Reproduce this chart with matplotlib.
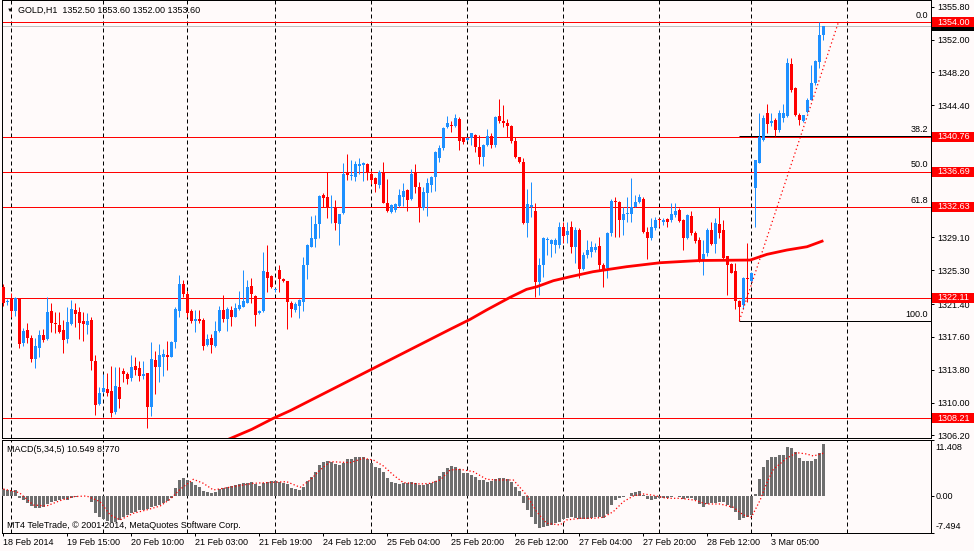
import matplotlib
matplotlib.use("Agg")
import matplotlib.pyplot as plt
from matplotlib.patches import Rectangle
from matplotlib.transforms import blended_transform_factory, offset_copy

plt.rcParams['font.family'] = ['Liberation Sans', 'DejaVu Sans']
plt.rcParams['font.size'] = 6.5

# hourly GOLD bars (bar 0 = 18 Feb 2014 23:00)
opens = [
    1323.40, 1321.60, 1321.95, 1320.64, 1321.95, 1316.94, 1318.40, 1317.44, 1315.05, 1316.36,
    1317.82, 1317.36, 1320.64, 1319.25, 1318.98, 1318.40, 1317.36, 1319.10, 1320.72, 1320.52,
    1319.48, 1318.98, 1319.56, 1314.85, 1309.84, 1311.27, 1311.54, 1311.34, 1308.95, 1311.85,
    1313.66, 1313.31, 1312.81, 1314.24, 1314.04, 1313.10, 1313.39, 1309.53, 1314.93, 1314.16,
    1315.32, 1315.51, 1315.32, 1317.05, 1320.64, 1323.72, 1322.56, 1320.60, 1319.48, 1319.67,
    1319.56, 1316.66, 1317.51, 1316.59, 1318.28, 1320.71, 1319.63, 1320.71, 1319.94, 1320.79,
    1321.10, 1321.56, 1323.49, 1322.33, 1320.33, 1320.64, 1325.15, 1324.65, 1323.00, 1325.34,
    1324.30, 1324.07, 1321.50, 1320.71, 1321.18, 1321.68, 1325.92, 1328.04, 1328.89, 1330.67,
    1334.02, 1333.75, 1332.48, 1332.67, 1330.63, 1331.90, 1336.60, 1336.22, 1336.14, 1337.38,
    1337.49, 1337.61, 1336.45, 1335.95, 1335.18, 1336.72, 1333.06, 1332.10, 1332.29, 1332.79,
    1333.83, 1334.60, 1333.56, 1336.53, 1334.91, 1332.48, 1334.21, 1335.18, 1336.06, 1338.26,
    1339.42, 1341.85, 1342.12, 1342.04, 1342.81, 1340.58, 1340.39, 1340.58, 1340.96, 1339.61,
    1338.38, 1339.80, 1340.89, 1339.80, 1343.16, 1342.58, 1342.31, 1342.00, 1340.31, 1338.38,
    1337.88, 1330.83, 1332.60, 1332.17, 1324.00, 1325.92, 1328.81, 1328.35, 1328.23, 1328.23,
    1330.28, 1329.39, 1330.28, 1327.97, 1329.97, 1325.46, 1327.08, 1327.46, 1327.70, 1328.12,
    1325.92, 1325.54, 1329.59, 1333.37, 1333.25, 1331.13, 1331.80, 1331.82, 1332.67, 1333.25,
    1333.60, 1329.78, 1329.00, 1330.16, 1331.15, 1330.94, 1331.21, 1331.13, 1331.71, 1332.29,
    1331.13, 1329.00, 1331.59, 1329.59, 1328.81, 1326.42, 1327.26, 1329.96, 1328.35, 1330.66,
    1329.96, 1326.96, 1326.03, 1325.26, 1321.79, 1321.29, 1324.45, 1324.06, 1334.79, 1337.76,
    1340.38, 1343.47, 1342.39, 1342.70, 1341.54, 1342.89, 1343.16, 1349.17, 1346.36, 1343.27,
    1342.62, 1343.66, 1345.01, 1347.02, 1349.44, 1352.50,
]
highs = [
    1323.70, 1322.00, 1322.64, 1322.18, 1322.06, 1318.59, 1319.17, 1317.82, 1317.44, 1318.40,
    1318.48, 1322.18, 1321.49, 1320.52, 1320.52, 1319.56, 1321.10, 1321.87, 1321.56, 1321.10,
    1320.52, 1320.40, 1319.94, 1315.51, 1311.84, 1313.31, 1313.39, 1314.24, 1314.16, 1314.08,
    1313.97, 1313.58, 1315.51, 1315.32, 1314.81, 1314.81, 1313.39, 1316.97, 1315.97, 1316.78,
    1316.20, 1317.13, 1317.13, 1321.10, 1324.76, 1324.18, 1322.95, 1320.79, 1320.71, 1320.71,
    1319.75, 1317.90, 1317.90, 1319.44, 1321.18, 1322.45, 1321.10, 1321.18, 1321.56, 1322.95,
    1325.34, 1324.18, 1324.37, 1322.45, 1320.71, 1327.46, 1328.23, 1324.76, 1323.20, 1325.92,
    1324.38, 1324.07, 1321.80, 1321.60, 1321.95, 1326.89, 1328.31, 1331.59, 1331.71, 1334.02,
    1334.21, 1336.72, 1334.02, 1333.44, 1331.82, 1337.68, 1338.77, 1338.07, 1337.96, 1338.26,
    1337.88, 1337.77, 1336.91, 1336.06, 1336.91, 1337.88, 1335.83, 1332.94, 1333.06, 1334.68,
    1335.37, 1334.68, 1337.03, 1337.61, 1335.56, 1334.99, 1335.95, 1336.20, 1339.10, 1339.80,
    1341.85, 1343.16, 1342.62, 1343.39, 1343.08, 1340.77, 1340.77, 1341.23, 1341.08, 1340.96,
    1339.90, 1341.66, 1341.23, 1343.16, 1345.13, 1344.43, 1342.77, 1342.12, 1340.77, 1338.46,
    1338.26, 1334.68, 1335.56, 1333.13, 1326.70, 1329.20, 1329.20, 1328.89, 1329.00, 1330.94,
    1330.94, 1330.94, 1331.05, 1330.30, 1330.20, 1327.46, 1328.81, 1328.70, 1328.50, 1329.20,
    1326.10, 1329.78, 1333.52, 1333.75, 1333.37, 1332.67, 1333.83, 1335.95, 1334.02, 1334.10,
    1333.83, 1330.36, 1331.32, 1331.51, 1331.32, 1331.32, 1331.35, 1333.13, 1333.13, 1332.50,
    1331.20, 1331.80, 1332.20, 1329.80, 1329.20, 1328.81, 1330.16, 1330.93, 1331.31, 1332.66,
    1331.12, 1327.00, 1326.10, 1326.10, 1321.87, 1324.50, 1328.50, 1325.10, 1338.10, 1343.47,
    1343.27, 1344.55, 1343.47, 1342.89, 1343.85, 1344.51, 1349.83, 1349.83, 1346.48, 1343.47,
    1343.30, 1345.20, 1349.06, 1349.60, 1354.00, 1353.60,
]
lows = [
    1321.20, 1321.30, 1319.94, 1320.06, 1316.36, 1316.55, 1316.94, 1314.74, 1314.04, 1315.32,
    1317.05, 1317.24, 1318.21, 1318.09, 1318.09, 1315.78, 1316.94, 1318.98, 1318.79, 1317.32,
    1317.17, 1317.94, 1313.77, 1308.57, 1309.72, 1311.07, 1310.77, 1308.37, 1308.68, 1309.34,
    1312.42, 1312.15, 1312.54, 1313.20, 1312.54, 1312.70, 1307.10, 1308.49, 1311.00, 1312.42,
    1313.08, 1313.77, 1315.24, 1316.36, 1319.94, 1322.26, 1319.94, 1319.25, 1318.21, 1319.25,
    1316.09, 1316.59, 1315.78, 1316.47, 1318.21, 1319.36, 1318.32, 1318.86, 1319.86, 1320.71,
    1321.02, 1321.49, 1321.49, 1318.86, 1320.25, 1320.52, 1322.83, 1323.22, 1322.85, 1322.83,
    1323.99, 1318.48, 1319.94, 1320.52, 1319.83, 1320.64, 1324.30, 1328.04, 1328.04, 1329.08,
    1332.60, 1331.40, 1330.75, 1329.97, 1328.23, 1331.82, 1335.76, 1335.76, 1335.68, 1336.45,
    1335.68, 1335.76, 1335.30, 1334.33, 1334.79, 1333.06, 1332.10, 1331.98, 1332.10, 1332.67,
    1332.75, 1332.21, 1333.44, 1334.29, 1330.94, 1332.29, 1331.59, 1334.41, 1334.50, 1337.88,
    1339.23, 1341.73, 1341.35, 1341.93, 1339.23, 1339.88, 1340.31, 1339.80, 1339.04, 1337.61,
    1337.38, 1339.73, 1339.42, 1339.54, 1342.31, 1341.93, 1340.77, 1340.08, 1338.26, 1337.77,
    1330.67, 1329.20, 1331.50, 1322.26, 1322.45, 1324.57, 1327.08, 1326.89, 1327.27, 1327.85,
    1328.43, 1328.43, 1327.35, 1326.11, 1324.38, 1325.34, 1326.69, 1326.89, 1327.40, 1325.30,
    1323.42, 1324.38, 1329.28, 1329.20, 1329.10, 1329.39, 1330.94, 1330.94, 1332.60, 1333.13,
    1329.59, 1326.58, 1328.81, 1329.97, 1330.36, 1330.60, 1330.30, 1330.94, 1331.50, 1330.90,
    1327.66, 1328.90, 1329.40, 1328.50, 1326.30, 1324.76, 1327.00, 1328.23, 1327.26, 1329.00,
    1326.57, 1322.44, 1324.95, 1320.79, 1319.47, 1320.79, 1321.67, 1324.00, 1330.35, 1337.68,
    1340.30, 1341.15, 1342.00, 1340.85, 1341.35, 1342.50, 1343.08, 1345.97, 1343.16, 1342.12,
    1342.50, 1343.47, 1345.00, 1346.74, 1348.67, 1352.00,
]
closes = [
    1321.50, 1321.80, 1320.64, 1322.06, 1316.78, 1318.32, 1317.44, 1315.05, 1316.55, 1317.82,
    1317.24, 1320.52, 1319.25, 1319.06, 1318.21, 1317.24, 1319.37, 1320.80, 1320.25, 1319.25,
    1319.10, 1319.44, 1314.85, 1309.72, 1311.07, 1311.73, 1311.15, 1308.84, 1311.92, 1310.38,
    1313.31, 1312.69, 1314.16, 1313.77, 1313.08, 1313.30, 1309.53, 1315.00, 1314.16, 1315.51,
    1315.59, 1315.24, 1316.97, 1320.83, 1323.72, 1322.56, 1320.40, 1319.48, 1319.63, 1319.40,
    1316.59, 1317.36, 1316.66, 1318.28, 1320.71, 1319.63, 1320.79, 1319.94, 1320.91, 1321.29,
    1321.75, 1323.33, 1322.52, 1320.13, 1320.64, 1325.26, 1324.45, 1323.33, 1323.10, 1324.30,
    1324.07, 1321.60, 1320.83, 1321.37, 1321.87, 1325.92, 1328.23, 1329.00, 1330.63, 1333.91,
    1333.64, 1332.48, 1332.56, 1330.75, 1331.82, 1336.45, 1336.33, 1336.33, 1337.61, 1337.61,
    1337.77, 1336.60, 1335.76, 1335.30, 1336.72, 1333.06, 1332.21, 1332.87, 1332.94, 1334.02,
    1334.48, 1333.44, 1336.45, 1334.91, 1332.60, 1334.41, 1335.37, 1336.06, 1339.04, 1339.42,
    1341.73, 1342.31, 1342.04, 1342.89, 1340.31, 1340.12, 1340.58, 1341.16, 1339.61, 1338.46,
    1339.80, 1340.89, 1339.80, 1343.08, 1342.58, 1342.31, 1342.00, 1340.31, 1338.38, 1337.88,
    1330.75, 1332.98, 1332.90, 1324.00, 1325.92, 1329.00, 1328.93, 1328.81, 1328.81, 1330.36,
    1329.28, 1329.89, 1327.97, 1329.97, 1325.46, 1327.08, 1327.66, 1327.97, 1328.04, 1325.92,
    1325.34, 1329.66, 1333.37, 1333.17, 1331.13, 1331.82, 1331.85, 1332.67, 1333.25, 1333.83,
    1329.78, 1329.08, 1330.36, 1331.13, 1331.10, 1331.13, 1330.94, 1331.82, 1332.21, 1331.05,
    1329.00, 1331.71, 1329.59, 1328.74, 1326.50, 1327.19, 1329.96, 1328.35, 1330.81, 1329.66,
    1326.69, 1325.92, 1325.03, 1321.79, 1321.10, 1324.45, 1324.26, 1325.03, 1338.06, 1340.77,
    1342.89, 1342.23, 1342.62, 1341.54, 1343.47, 1343.47, 1349.25, 1346.17, 1343.27, 1342.70,
    1343.27, 1345.01, 1347.02, 1349.52, 1352.53, 1353.60,
]

# moving average (thick red line), sampled along the curve
ma_bars = [55, 62.1, 67.5, 71.7, 91.7, 111.7, 116.7, 120.8, 126.7, 130.8, 133.4, 137.5,
           141.7, 147.4, 155.8, 164.2, 174.2, 186.7, 190.9, 195.9, 200.9, 205]
ma_vals = [1305.50, 1306.90, 1308.18, 1309.06, 1313.77, 1318.48, 1319.63, 1320.71, 1322.18,
           1323.10, 1323.41, 1324.10, 1324.56, 1325.14, 1325.72, 1326.18, 1326.44, 1326.49,
           1327.15, 1327.65, 1328.03, 1328.73]

# MACD(5,34,5) histogram, one value per bar
macd_hist = [
    1.45, 1.25, 1.11, 1.25, -0.46, -0.80, -1.34, -2.03, -2.50, -2.37,
    -2.30, -1.62, -1.14, -0.93, -0.80, -0.66, -0.80, -0.46, -0.12, -0.05,
    -0.05, -0.03, -1.14, -3.53, -4.34, -4.75, -5.02, -5.30, -5.23, -4.89,
    -4.34, -3.93, -3.53, -3.18, -2.84, -2.84, -2.71, -2.30, -2.03, -1.82,
    -1.34, -0.93, -0.46, 1.59, 3.29, 3.77, 3.29, 2.82, 2.27, 1.79,
    1.11, 0.91, 0.70, 0.91, 1.38, 1.59, 1.93, 2.07, 2.27, 2.41,
    2.61, 2.75, 2.82, 2.47, 2.07, 2.61, 2.95, 3.16, 3.16, 2.95,
    2.75, 2.41, 1.59, 1.38, 1.25, 1.93, 3.16, 3.97, 5.00, 6.36,
    7.04, 7.18, 7.04, 6.50, 6.36, 6.84, 7.52, 7.52, 7.93, 8.06,
    7.93, 7.52, 6.84, 6.02, 5.68, 5.00, 3.63, 2.95, 2.61, 2.47,
    2.61, 2.75, 2.95, 2.61, 2.27, 2.27, 2.41, 2.61, 3.16, 4.11,
    5.00, 5.68, 6.16, 5.88, 5.47, 4.79, 4.66, 4.31, 3.97, 3.29,
    3.29, 2.95, 3.16, 3.43, 3.63, 3.63, 3.43, 2.95, 1.93, 1.04,
    -1.34, -2.84, -4.34, -5.71, -6.59, -6.39, -6.12, -5.91, -5.57, -5.23,
    -4.75, -4.55, -4.34, -4.55, -4.75, -4.75, -4.62, -4.48, -4.34, -4.34,
    -4.55, -3.66, -1.82, -0.80, -0.46, -0.12, 0.05, 0.57, 0.91, 1.04,
    0.23, -0.66, -0.80, -0.66, -0.46, -0.46, -0.46, -0.12, 0.09, -0.12,
    -0.66, -0.46, -0.46, -0.80, -1.62, -2.16, -1.62, -1.34, -1.34, -1.14,
    -1.14, -1.82, -2.50, -3.18, -4.89, -4.55, -4.21, -3.87, 0.36, 3.43,
    6.02, 7.38, 7.93, 7.93, 8.41, 8.41, 9.97, 9.77, 9.09, 7.72,
    7.25, 7.25, 7.25, 7.52, 8.75, 10.549,
]
# signal line (dotted), sampled along the curve
sig_bars = [0, 4, 7.5, 10.8, 14.2, 17.5, 20.8, 24.2, 26.7, 29.2, 32.5, 35.8, 39.2, 41.7,
            44.2, 47.5, 50, 52.5, 57.5, 62.5, 65.8, 70.8, 74.2, 76.7, 79.2, 81.7, 86.7, 90,
            92.5, 95, 97.5, 100, 104.2, 106.7, 109.2, 111.7, 114.2, 117.5, 120.8, 123.3,
            127.5, 130.8, 133.3, 135.8, 139.2, 140.8, 144.2, 147.5, 150, 152.5, 155, 157.5,
            160, 162.5, 165.8, 169.2, 172.5, 175.8, 179.2, 182.5, 185, 187, 189.2, 190.8,
            192.5, 195.8, 198.3, 200.8, 202.5, 205]
sig_vals = [1.45, 0.70, -1.82, -2.03, -0.93, -0.12, 0.02, -1.14, -3.87, -4.89, -3.53, -2.84,
            -2.03, -0.66, 1.38, 3.43, 2.61, 1.25, 1.93, 2.61, 2.75, 2.95, 1.79, 3.29, 5.34,
            7.04, 6.84, 7.72, 7.38, 6.16, 4.31, 2.75, 2.47, 2.61, 3.29, 5.34, 5.47, 5.00,
            3.43, 3.29, 3.29, 0.23, -3.18, -5.57, -5.91, -4.89, -4.55, -4.55, -4.34, -3.18,
            -1.14, 0.02, 0.43, 0.16, -0.46, -0.46, -0.80, -1.62, -1.62, -2.30, -3.87, -4.34,
            -0.80, 2.61, 5.47, 7.72, 8.88, 8.61, 8.20, 8.770]

# horizontal support/resistance lines and the Fibonacci retracement
level_prices = [1354.00, 1340.76, 1336.69, 1332.63, 1322.11, 1308.21]
bid_price = 1353.60
fib_low, fib_high = 1319.47, 1354.00
fib_start, fib_end = 184, 208.75
fib_ratios = [0.0, 38.2, 50.0, 61.8, 100.0]

price_ticks = [1355.80, 1352.00, 1348.20, 1344.40, 1329.10, 1325.30, 1321.40,
               1317.60, 1313.80, 1310.00, 1306.20]
macd_ticks = [11.408, 0.00, -7.494]

grid_bars = [2, 25, 46, 68, 92, 116, 140, 164, 187, 211]
time_bars = [0, 16, 32, 48, 64, 80, 96, 112, 128, 144, 160, 176, 192]
time_labels = ['18 Feb 2014', '19 Feb 15:00', '20 Feb 10:00', '21 Feb 03:00',
               '21 Feb 19:00', '24 Feb 12:00', '25 Feb 04:00', '25 Feb 20:00',
               '26 Feb 12:00', '27 Feb 04:00', '27 Feb 20:00', '28 Feb 12:00',
               '3 Mar 05:00']

BG = '#FFFAFA'
BULL = '#1E90FF'
BEAR = '#FF0000'
W, H = 974.0, 551.0
PX = 0.72  # one pixel in points

fig = plt.figure(figsize=(9.74, 5.51), dpi=100, facecolor=BG)
ax = fig.add_axes([2.3 / W, 1 - 438 / H, (931 - 2.3) / W, 438 / H], facecolor=BG)
mx = fig.add_axes([2.3 / W, 1 - 532.7 / H, (931 - 2.3) / W, (532.7 - 440.3) / H], facecolor=BG)

x_lo, x_hi = -0.25, 231.9
for a in (ax, mx):
    a.set_xlim(x_lo, x_hi)
    for s in a.spines.values():
        s.set_linewidth(PX)
        s.set_color('black')
    for b in grid_bars:
        a.axvline(b, color='black', lw=PX, ls=(0, (4, 3)), zorder=1)

ax.set_ylim(1305.90, 1356.58)
mx.set_ylim(-7.494, 11.408)

# candles
idx = list(range(len(closes)))
colors = [BULL if c >= o else BEAR for o, c in zip(opens, closes)]
bottoms = [min(o, c) for o, c in zip(opens, closes)]
heights = [max(abs(c - o), 0.12) for o, c in zip(opens, closes)]
ax.vlines(idx, lows, highs, colors=colors, linewidth=PX, zorder=3)
ax.bar(idx, heights, bottom=bottoms, width=0.75, color=colors, linewidth=0, zorder=4)

# moving average
ax.plot(ma_bars, ma_vals, color=BEAR, lw=2.0, zorder=5, solid_capstyle='butt')

# horizontal lines
ax.axhline(bid_price, color='#C0C0C0', lw=PX, zorder=2)
fib_prices = [fib_high - r / 100.0 * (fib_high - fib_low) for r in fib_ratios]
ax.hlines(fib_prices, fib_start, x_hi, colors='black', lw=PX, zorder=2)
for p in level_prices:
    ax.axhline(p, color=BEAR, lw=PX, zorder=2.5)
ax.plot([fib_start, fib_end], [fib_low, fib_high], color=BEAR, lw=0.9,
        ls=(0, (1, 2.2)), zorder=5)
for r, p in zip(fib_ratios, fib_prices):
    ax.annotate('%.1f' % r, (1.0, p), xycoords=('axes fraction', 'data'),
                xytext=(-2, 1.5), textcoords='offset points', ha='right', va='bottom',
                fontsize=6.5, zorder=6)

# right price axis
ax.set_xticks([])
ax.yaxis.tick_right()
ax.set_yticks(price_ticks)
ax.set_yticklabels(['%.2f' % p for p in price_ticks])
ax.tick_params(axis='y', length=2.2, width=PX, pad=2.5, labelsize=6.5)

tr = blended_transform_factory(fig.transFigure, ax.transData)
box_h = 10 / 8.642
fig.add_artist(Rectangle((932 / W, bid_price - box_h / 2), (W - 932) / W, box_h,
                         transform=tr, facecolor='black', edgecolor='none', zorder=4))
for p in level_prices:
    fig.add_artist(Rectangle((932 / W, p - box_h / 2), (W - 932) / W, box_h,
                             transform=tr, facecolor=BEAR, edgecolor='none', zorder=5))
    fig.text(937.5 / W, p, '%.2f' % p, transform=tr, color='white', va='center',
             ha='left', fontsize=6.5, zorder=6)

# MACD panel
mx.bar(idx, macd_hist, width=0.75, color='#6E6E6E', linewidth=0, zorder=3)
mx.plot(sig_bars, sig_vals, color=BEAR, lw=0.9, ls=(0, (1, 1.8)), zorder=4)
mx.yaxis.tick_right()
mx.set_yticks(macd_ticks)
mx.set_yticklabels([])
mx.tick_params(axis='y', length=2.2, width=PX)
mt = blended_transform_factory(mx.transAxes, mx.transData)
for v, dy in zip(macd_ticks, [-7, 0, 6]):
    mx.text(1.0, v, '%.3f' % v if v != 0 else '0.00',
            transform=offset_copy(mt, fig=fig, x=4.5, y=dy, units='dots'),
            ha='left', va='center', fontsize=6.5, clip_on=False)

mx.set_xticks(time_bars)
mx.set_xticklabels(time_labels, ha='left')
mx.tick_params(axis='x', length=2.2, width=PX, pad=1.8, labelsize=6.5)

# header texts
fig.text(9.3 / W, 1 - 10.5 / H, '\u25bc', fontsize=4.5, ha='center', va='center')
fig.text(18 / W, 1 - 10 / H,
         'GOLD,H1  %.2f %.2f %.2f %.2f' % (opens[-1], highs[-1], lows[-1], closes[-1]),
         va='center', ha='left', fontsize=6.5)
fig.text(7.3 / W, 1 - 450 / H,
         'MACD(5,34,5) %.3f %.3f' % (macd_hist[-1], sig_vals[-1]),
         va='center', ha='left', fontsize=6.5)
fig.text(7.3 / W, 1 - 526 / H, 'MT4 TeleTrade, \u00a9 2001-2014, MetaQuotes Software Corp.',
         va='center', ha='left', fontsize=6.5)

fig.savefig('out.png', dpi=100, facecolor=BG)
